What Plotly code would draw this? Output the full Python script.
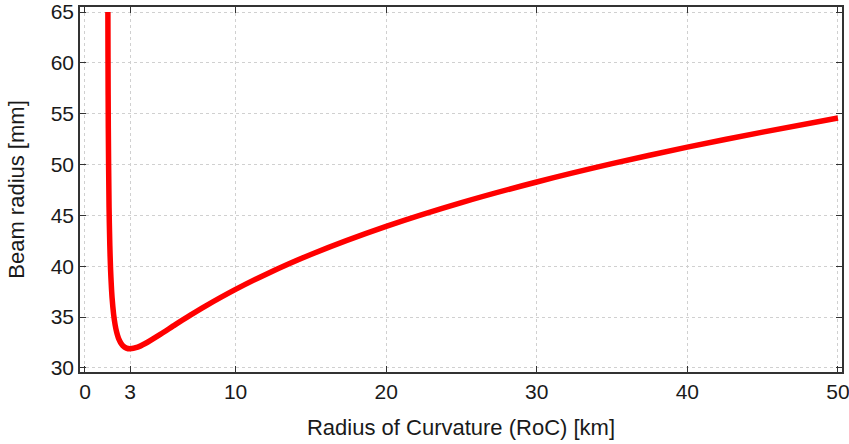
import plotly.graph_objects as go

# radius of curvature [km] and beam radius [mm]
roc_km = [1.522, 1.53, 1.55, 1.6, 1.65, 1.7, 1.75, 1.8, 1.9, 2.0, 2.1, 2.2, 2.25,
          2.4, 2.5, 2.75, 3.0, 3.5, 4.0, 5.0, 6.0, 7.0, 8.0, 10.0, 12.0, 15.0,
          20.0, 25.0, 30.0, 35.0, 40.0, 45.0, 50.0]
beam_mm = [65.0, 60.5, 53.6, 45.8, 42.04, 39.7, 38.11, 36.9, 35.31, 34.26, 33.54,
           33.03, 32.83, 32.40, 32.21, 31.95, 31.88, 32.04, 32.40, 33.30, 34.26,
           35.19, 36.08, 37.72, 39.20, 41.16, 43.92, 46.26, 48.29, 50.09, 51.72,
           53.19, 54.58]

x_ticks = [0, 3, 10, 20, 30, 40, 50]
y_ticks = [30, 35, 40, 45, 50, 55, 60, 65]

fig = go.Figure(go.Scatter(
  x=roc_km, y=beam_mm,
  mode='lines',
  line=dict(color='#ff0000', width=5.5, shape='spline', smoothing=0.8),
  showlegend=False
))

axis_style = dict(
  showline=True, linecolor='#333333', linewidth=1.5, mirror='ticks',
  ticks='inside', ticklen=6, tickwidth=1.2, tickcolor='#333333',
  showgrid=True, gridcolor='#d0d0d0', griddash='dot', gridwidth=1,
  zeroline=False, automargin=False, ticklabeloverflow='allow',
  tickfont=dict(size=21, color='#1a1a1a'),
)

fig.update_layout(
  width=849, height=444,
  margin=dict(l=80, r=7, t=7, b=72),
  paper_bgcolor='white', plot_bgcolor='white',
  font=dict(family='Liberation Sans, Arial, sans-serif', color='#1a1a1a'),
  xaxis=dict(axis_style, range=[-0.33, 50.27], tickvals=x_ticks,
             title=dict(text='Radius of Curvature (RoC) [km]', font=dict(size=22), standoff=18)),
  yaxis=dict(axis_style, range=[29.6, 65.5], tickvals=y_ticks,
             title=dict(text='Beam radius [mm]', font=dict(size=22), standoff=20)),
)

# drop the browser's default body margin so the figure sits at the page corner
fig.write_html("out.html", config={'displayModeBar': False},
               post_script="document.body.style.margin='0';")
